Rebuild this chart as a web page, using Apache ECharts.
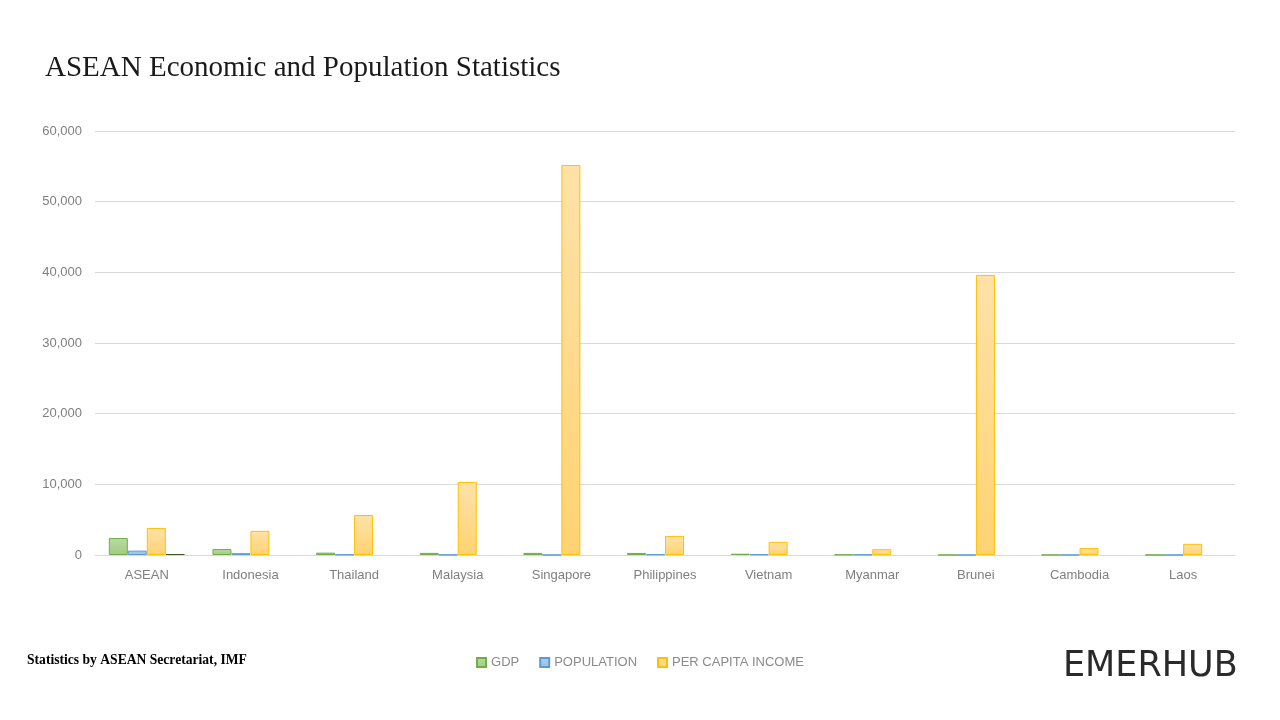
<!DOCTYPE html>
<html>
<head>
<meta charset="utf-8">
<script src="https://cdn.jsdelivr.net/npm/echarts@6/dist/echarts.min.js"></script>
<style>html,body{margin:0;padding:0;background:#fff}#c{width:1280px;height:720px}</style>
</head>
<body>
<div id="c"></div>
<script>
const categories = ['ASEAN','Indonesia','Thailand','Malaysia','Singapore','Philippines','Vietnam','Myanmar','Brunei','Cambodia','Laos'];
const gdp = [2400, 840, 330, 300, 300, 290, 180, 65, 17, 16, 12];
const population = [620, 255, 67, 31, 5.6, 101, 91, 52, 0.4, 15, 7];
const perCapita = [3830, 3420, 5660, 10330, 55190, 2700, 1860, 820, 39630, 980, 1580];
const extra = [140, null, null, null, null, null, null, null, null, null, null];
const yTicks = [0, 10000, 20000, 30000, 40000, 50000, 60000];

function grad(top, bottom) {
  return new echarts.graphic.LinearGradient(0, 0, 0, 1, [{offset: 0, color: top}, {offset: 1, color: bottom}]);
}

const chart = echarts.init(document.getElementById('c'));
chart.setOption({
  animation: false,
  backgroundColor: '#fff',
  title: {
    text: 'ASEAN Economic and Population Statistics',
    left: 40, top: 49,
    textStyle: {fontFamily: 'Liberation Serif', fontWeight: 'normal', fontSize: 29, color: '#1a1a1a'}
  },
  grid: {left: 95, right: 45, top: 131, bottom: 165},
  legend: {
    data: ['GDP', 'POPULATION', 'PER CAPITA INCOME'],
    left: 'center', top: 651,
    itemWidth: 9, itemHeight: 9, itemGap: 20,
    textStyle: {fontFamily: 'Liberation Sans', fontSize: 13, color: '#8a8a8a'},
    icon: 'rect'
  },
  xAxis: {
    type: 'category',
    data: categories,
    axisLine: {lineStyle: {color: '#d9d9d9'}},
    axisTick: {show: false},
    axisLabel: {fontFamily: 'Liberation Sans', fontSize: 13, color: '#7f7f7f', margin: 14}
  },
  yAxis: {
    type: 'value',
    min: yTicks[0], max: yTicks[yTicks.length - 1], interval: 10000,
    axisLine: {show: false},
    axisTick: {show: false},
    splitLine: {lineStyle: {color: '#d9d9d9'}},
    axisLabel: {
      fontFamily: 'Liberation Sans', fontSize: 13, color: '#7f7f7f', margin: 13,
      formatter: v => v.toLocaleString('en-US')
    }
  },
  series: [
    {name: 'GDP', type: 'bar', data: gdp, barWidth: 19, barGap: '0%',
      itemStyle: {color: grad('#b9dba2', '#9fcb84'), borderColor: '#70ad47', borderWidth: 1}},
    {name: 'POPULATION', type: 'bar', data: population, barWidth: 19, barGap: '0%',
      itemStyle: {color: grad('#b0d0ee', '#95bde3'), borderColor: '#5b9bd5', borderWidth: 1}},
    {name: 'PER CAPITA INCOME', type: 'bar', data: perCapita, barWidth: 19, barGap: '0%',
      itemStyle: {color: grad('#ffe2a8', '#ffd372'), borderColor: '#ffc000', borderWidth: 1}},
    {name: 'extra', type: 'bar', data: extra, barWidth: 19, barGap: '0%',
      itemStyle: {color: '#375623', borderColor: '#375623', borderWidth: 1}}
  ],
  graphic: [
    {type: 'text', left: 27, top: 653,
      style: {text: 'Statistics by ASEAN Secretariat, IMF', font: 'bold 13.6px "Liberation Serif"', fill: '#000'}},
    {type: 'text', left: 1063, top: 649,
      style: {text: 'EMERHUB', font: 'normal 35px "DejaVu Sans"', fill: '#2a2a2a'}}
  ]
});
</script>
</body>
</html>
